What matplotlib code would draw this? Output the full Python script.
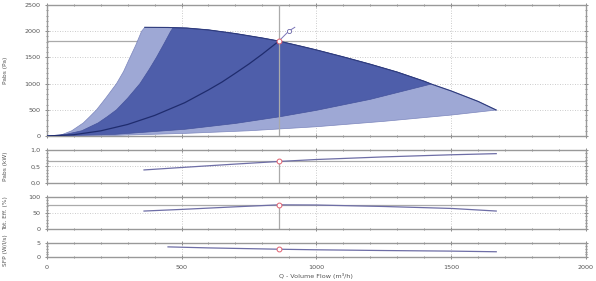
import numpy as np
import matplotlib.pyplot as plt
from matplotlib.ticker import MultipleLocator

# values (flow in m3/h)
light_left_q = [0, 50, 93, 136, 160, 185, 220, 259, 285, 309, 330, 352, 364]
light_left_p = [0, 12, 100, 250, 370, 500, 730, 1000, 1230, 1500, 1730, 2000, 2075]
dark_left_q = [0, 70, 130, 191, 225, 259, 300, 346, 380, 407, 435, 460, 469]
dark_left_p = [0, 30, 100, 250, 370, 500, 720, 1000, 1270, 1500, 1760, 2000, 2068]
max_q = [364, 450, 520, 600, 700, 800, 861, 950, 1000, 1100, 1200, 1300, 1400, 1426, 1500, 1600, 1667]
max_p = [2075, 2072, 2060, 2025, 1955, 1870, 1812, 1705, 1643, 1510, 1370, 1220, 1045, 992, 860, 660, 496]
light_bot_q = [0, 250, 512, 750, 1000, 1250, 1500, 1667]
light_bot_p = [0, 12, 50, 100, 177, 280, 400, 496]
dark_bot_q = [0, 250, 512, 700, 865, 1000, 1200, 1426]
dark_bot_p = [0, 30, 128, 240, 368, 490, 700, 992]

sys_q = [0, 100, 200, 300, 400, 512, 600, 650, 700, 750, 800, 861]
sys_p = [0, 24, 98, 220, 392, 636, 880, 1030, 1200, 1375, 1565, 1812]
ext_q = [861, 898, 920]
ext_p = [1812, 2004, 2075]

pabs_q = [361, 500, 700, 861, 1000, 1250, 1500, 1667]
pabs_kw = [0.39, 0.465, 0.57, 0.65, 0.71, 0.79, 0.855, 0.89]
eff_q = [361, 500, 700, 861, 1000, 1250, 1500, 1667]
eff_pct = [56, 61, 69, 75, 74.5, 70, 64, 56]
sfp_q = [450, 600, 861, 1000, 1250, 1500, 1667]
sfp_val = [3.6, 3.25, 2.8, 2.6, 2.35, 2.15, 1.93]

op_q, op_p, op_kw, op_eff, op_sfp = 861, 1812, 0.65, 75, 2.8

LIGHT = '#9ea8d5'
DARK = '#4e5eaa'
NAVY = '#1f2c6e'
LINE = '#6e6ea6'
GREY = '#aaaaaa'
TXT = '#555555'
FS = 4.6
LFS = 4.2

fig = plt.figure(figsize=(5.96, 2.81), dpi=100)
L, W = 0.0783, 0.905
ax_main = fig.add_axes([L, 0.516, W, 0.466])
ax_kw = fig.add_axes([L, 0.350, W, 0.116])
ax_eff = fig.add_axes([L, 0.184, W, 0.116])
ax_sfp = fig.add_axes([L, 0.084, W, 0.052])


def style(ax, ymax, ymajor, yminor, labels):
    ax.set_xlim(0, 2000)
    ax.set_ylim(0, ymax)
    ax.xaxis.set_major_locator(MultipleLocator(500))
    ax.xaxis.set_minor_locator(MultipleLocator(100))
    ax.yaxis.set_major_locator(MultipleLocator(ymajor))
    ax.yaxis.set_minor_locator(MultipleLocator(yminor))
    ax.tick_params(which='both', direction='inout', top=True, right=True,
                   colors='#777777', width=0.6, labelsize=FS, labelcolor=TXT)
    ax.tick_params(which='major', length=3.5, pad=2.5)
    ax.tick_params(which='minor', length=1.8)
    ax.tick_params(axis='x', labelbottom=labels)
    for s in ax.spines.values():
        s.set_color('#999999')
        s.set_linewidth(1.0)
    ax.grid(True, which='major', linestyle=(0, (1, 2)), color='#bbbbbb', linewidth=0.6)
    ax.set_axisbelow(True)
    ax.yaxis.set_label_coords(-0.072, 0.5)


def comma(ax, fmt):
    ax.yaxis.set_major_formatter(lambda v, pos: (fmt % v).replace('.', ','))


# main pressure panel
style(ax_main, 2500, 500, 100, False)
mq = np.array(max_q)
mp = np.array(max_p)
lx = np.concatenate([light_left_q, mq, light_bot_q[::-1]])
ly = np.concatenate([light_left_p, mp, light_bot_p[::-1]])
ax_main.fill(lx, ly, color=LIGHT, ec='#7c86bd', lw=0.5, zorder=2)
keep = (mq > 469) & (mq < 1426)
dx = np.concatenate([dark_left_q, mq[keep], dark_bot_q[::-1]])
dy = np.concatenate([dark_left_p, mp[keep], dark_bot_p[::-1]])
ax_main.fill(dx, dy, color=DARK, ec='#45539c', lw=0.5, zorder=3)
ax_main.plot(max_q, max_p, color='#2e3b7c', lw=0.8, zorder=4)
ax_main.axhline(op_p, color=GREY, lw=0.9, zorder=1)
ax_main.axvline(op_q, color=GREY, lw=0.9, zorder=5)
ax_main.plot(sys_q, sys_p, color=NAVY, lw=0.9, zorder=6)
ax_main.plot(ext_q, ext_p, color='#7a74b8', lw=0.7, zorder=6)
ax_main.plot([ext_q[1]], [ext_p[1]], 'o', ms=3, mfc='white', mec='#6a66a8', mew=0.6, zorder=7)
ax_main.plot([op_q], [op_p], 'o', ms=3.5, mfc='white', mec='#e06070', mew=0.7, zorder=7)
ax_main.set_ylabel('Pabs (Pa)', fontsize=LFS, color=TXT)

# absorbed power
style(ax_kw, 1.0, 0.5, 0.1, False)
comma(ax_kw, '%.1f')
ax_kw.axhline(op_kw, color=GREY, lw=0.9)
ax_kw.plot([op_q, op_q], [0, op_kw], color=GREY, lw=0.9)
ax_kw.plot(pabs_q, pabs_kw, color=LINE, lw=0.9)
ax_kw.plot([op_q], [op_kw], 'o', ms=3.5, mfc='white', mec='#e06070', mew=0.7, zorder=5)
ax_kw.set_ylabel('Pabs (kW)', fontsize=LFS, color=TXT)

# efficiency
style(ax_eff, 100, 50, 10, False)
ax_eff.axhline(op_eff, color=GREY, lw=0.9)
ax_eff.plot([op_q, op_q], [0, op_eff], color=GREY, lw=0.9)
ax_eff.plot(eff_q, eff_pct, color=LINE, lw=0.9)
ax_eff.plot([op_q], [op_eff], 'o', ms=3.5, mfc='white', mec='#e06070', mew=0.7, zorder=5)
ax_eff.set_ylabel('Tot. Eff. (%)', fontsize=LFS, color=TXT)

# specific fan power
style(ax_sfp, 5, 5, 1, True)
ax_sfp.plot(sfp_q, sfp_val, color=LINE, lw=0.9)
ax_sfp.plot([op_q], [op_sfp], 'o', ms=3.5, mfc='white', mec='#e06070', mew=0.7, zorder=5)
ax_sfp.set_ylabel('SFP (W/l/s)', fontsize=LFS, color=TXT)
ax_sfp.tick_params(axis='x', pad=4)
ax_sfp.set_xlabel('Q - Volume Flow (m³/h)', fontsize=FS, color=TXT, labelpad=2)

fig.savefig('out.png', dpi=100)
